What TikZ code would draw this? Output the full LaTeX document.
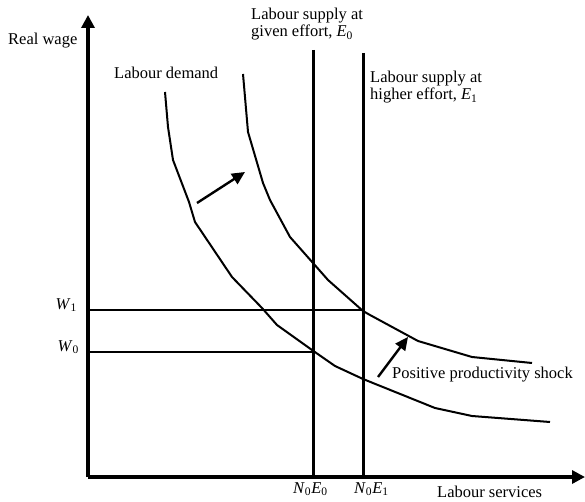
\documentclass[tikz,border=0pt]{standalone}
\usepackage{fontspec}
\setmainfont{Liberation Serif}
\usetikzlibrary{arrows.meta}
\tikzset{
  axisline/.style={line width=3.2pt,-{Triangle[length=13pt,width=13pt]}},
  supplyline/.style={line width=3pt},
  wageline/.style={line width=2.2pt},
  demandcurve/.style={line width=2pt,line join=round},
  shiftarrow/.style={line width=2.4pt,-{Triangle[length=13pt,width=12pt]}},
  lbl/.style={inner sep=0pt,font=\fontsize{16.5}{17}\selectfont}
}
\begin{document}
\begin{tikzpicture}[x=1pt,y=-1pt]
\useasboundingbox (0,0) rectangle (585,502);
% key coordinates
\coordinate (O) at (88,477);
\coordinate (ytip) at (88,15);
\coordinate (xtip) at (585,477);
\coordinate (E0top) at (313,50);
\coordinate (E0bot) at (313,477);
\coordinate (E1top) at (363,53);
\coordinate (E1bot) at (363,477);
\coordinate (W1a) at (88,310);
\coordinate (W1b) at (363,310);
\coordinate (W0a) at (88,352);
\coordinate (W0b) at (313,352);
\coordinate (s1a) at (197,203);
\coordinate (s1b) at (245,172);
\coordinate (s2a) at (378,377);
\coordinate (s2b) at (408,337);
% wage lines
\draw[wageline] (W1a) -- (W1b);
\draw[wageline] (W0a) -- (W0b);
% supply lines
\draw[supplyline] (E0top) -- (E0bot);
\draw[supplyline] (E1top) -- (E1bot);
% demand curves
\draw[demandcurve] plot coordinates {(165,92) (168,127) (173,160) (189,202) (195,222) (232,277) (262,308) (277,325) (312,350) (335,366) (363,379) (435,408) (472,416) (550,422)};
\draw[demandcurve] plot coordinates {(243,74) (248,132) (263,183) (270,200) (290,237) (313,263) (328,280) (363,311) (370,315) (418,341) (472,357) (532,363)};
% axes
\draw[axisline] (O) -- (ytip);
\draw[axisline] (O) -- (xtip);
% shift arrows
\draw[shiftarrow] (s1a) -- (s1b);
\draw[shiftarrow] (s2a) -- (s2b);
% labels
\node[lbl,anchor=base west] (rw) at (8,45) {Real wage};
\node[lbl,anchor=base west] (ld) at (114,79) {Labour demand};
\node[lbl,anchor=base west] (ls0a) at (251,20) {Labour supply at};
\node[lbl,anchor=base west] (ls0b) at (251,37) {given effort, \textit{E}\textsubscript{0}};
\node[lbl,anchor=base west] (ls1a) at (370,83) {Labour supply at};
\node[lbl,anchor=base west] (ls1b) at (370,100) {higher effort, \textit{E}\textsubscript{1}};
\node[lbl,anchor=base east] (w1) at (77,309) {\textit{W}\textsubscript{1}};
\node[lbl,anchor=base east] (w0) at (79,351) {\textit{W}\textsubscript{0}};
\node[lbl,anchor=base west] (n0) at (293,493) {\textit{N}\textsubscript{0}\textit{E}\textsubscript{0}};
\node[lbl,anchor=base west] (n1) at (354,493) {\textit{N}\textsubscript{0}\textit{E}\textsubscript{1}};
\node[lbl,anchor=base west] (ls) at (437,497) {Labour services};
\node[lbl,anchor=base west] (pps) at (392,378) {Positive productivity shock};
\end{tikzpicture}
\end{document}
